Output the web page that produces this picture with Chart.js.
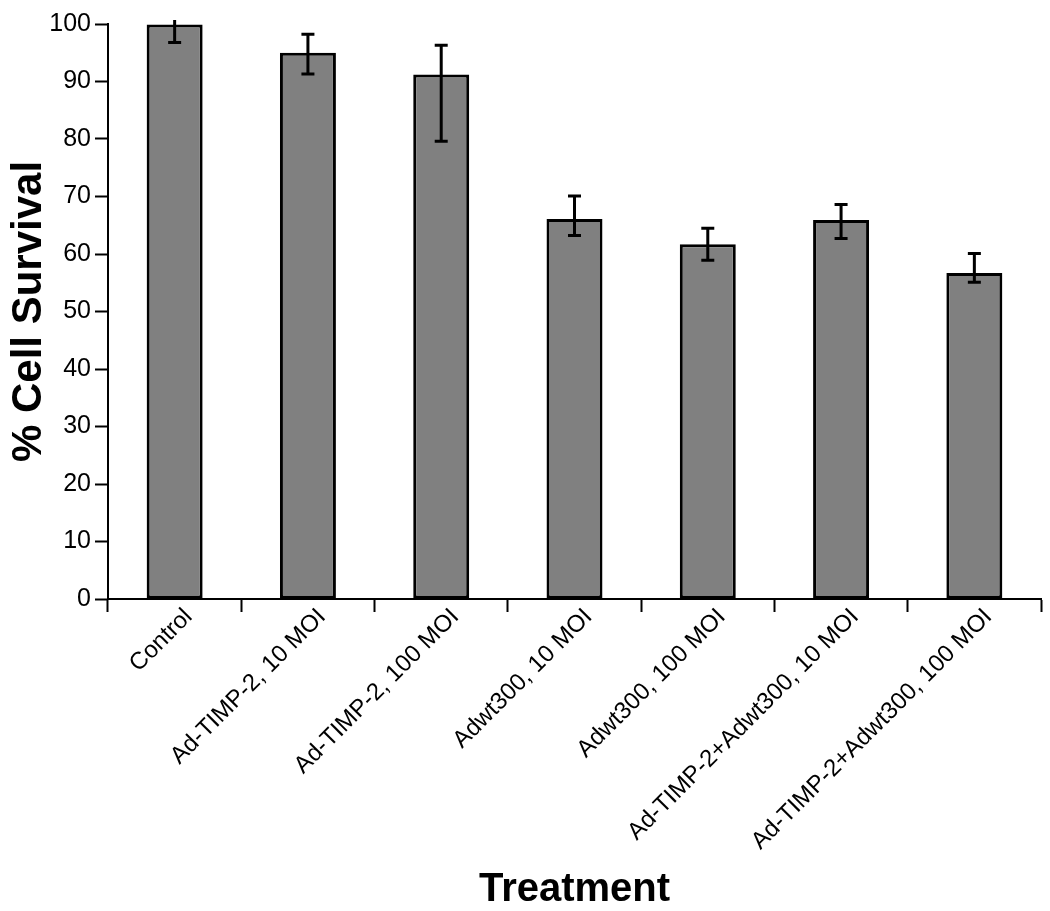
<!DOCTYPE html>
<html>
<head>
<meta charset="utf-8">
<script src="https://cdn.jsdelivr.net/npm/chart.js@4/dist/chart.umd.min.js"></script>
<style>
  html, body { margin: 0; padding: 0; background: #fff; }
  #wrap { width: 1050px; height: 911px; }
</style>
</head>
<body>
<div id="wrap"><canvas id="survivalChart" width="1050" height="911"></canvas></div>
<script>
// ===============================
//  DATA
// ===============================
const treatments = [
    "Control",
    "Ad-TIMP-2, 10 MOI",
    "Ad-TIMP-2, 100 MOI",
    "Adwt300, 10 MOI",
    "Adwt300, 100 MOI",
    "Ad-TIMP-2+Adwt300, 10 MOI",
    "Ad-TIMP-2+Adwt300, 100 MOI"
];
const survival = [99.9, 95.0, 91.2, 66.1, 61.7, 65.9, 56.7];
const errUp = [3.1, 3.2, 5.1, 4.0, 2.8, 2.7, 3.4];
const errDown = [3.1, 3.7, 11.6, 2.9, 2.8, 3.2, 1.6];
const yTicks = [0, 10, 20, 30, 40, 50, 60, 70, 80, 90, 100];

const FONT = "'Liberation Sans', Arial, Helvetica, sans-serif";

// ===============================
//  ERROR BAR PLUGIN
// ===============================
const errorBars = {
    id: "errorBars",
    afterDatasetsDraw(chart) {
        const { ctx, chartArea, scales } = chart;
        const y = scales.y;
        const meta = chart.getDatasetMeta(0);
        const cap = 6.5;

        ctx.save();
        // clip just above the top of the axis, the top cap of Control runs off the plot
        ctx.beginPath();
        ctx.rect(chartArea.left, chartArea.top - 4, chartArea.right - chartArea.left, chartArea.bottom - chartArea.top + 4);
        ctx.clip();
        ctx.strokeStyle = "#000";
        ctx.lineWidth = 3;

        meta.data.forEach((bar, i) => {
            const x = bar.x;
            const hi = y.getPixelForValue(survival[i] + errUp[i]);
            const lo = y.getPixelForValue(survival[i] - errDown[i]);
            ctx.beginPath();
            ctx.moveTo(x, hi);
            ctx.lineTo(x, lo);
            ctx.moveTo(x - cap, hi);
            ctx.lineTo(x + cap, hi);
            ctx.moveTo(x - cap, lo);
            ctx.lineTo(x + cap, lo);
            ctx.stroke();
        });
        ctx.restore();
    }
};

// ===============================
//  BUILD CHART
// ===============================
function buildChart() {
    const ctx = document.getElementById("survivalChart");

    new Chart(ctx, {
        type: "bar",
        data: {
            labels: treatments,
            datasets: [{
                label: "% Cell Survival",
                data: survival,
                backgroundColor: "#808080",
                borderColor: "#000",
                borderWidth: 3,
                borderSkipped: false,
                barPercentage: 0.42,
                categoryPercentage: 1
            }]
        },
        options: {
            responsive: false,
            animation: false,
            devicePixelRatio: 1,
            layout: { padding: { top: 24, right: 9, left: 4, bottom: 0 } },
            plugins: {
                legend: { display: false },
                tooltip: { enabled: false }
            },
            scales: {
                x: {
                    afterFit(scale) { scale.height = 312; },
                    border: { display: true, color: "#000", width: 2 },
                    grid: {
                        display: true,
                        drawOnChartArea: false,
                        offset: true,
                        tickLength: 13,
                        tickColor: "#000",
                        tickWidth: 2
                    },
                    ticks: {
                        color: "#000",
                        font: { family: FONT, size: 24 },
                        minRotation: 45,
                        maxRotation: 45,
                        autoSkip: false,
                        padding: -9,
                        labelOffset: 14
                    },
                    title: {
                        display: true,
                        text: "Treatment",
                        color: "#000",
                        font: { family: FONT, size: 40, weight: "bold" },
                        padding: { top: 0, bottom: -3 }
                    }
                },
                y: {
                    min: 0,
                    max: 100,
                    afterFit(scale) { scale.width = 104; },
                    afterBuildTicks(scale) {
                        scale.ticks = yTicks.map(v => ({ value: v }));
                    },
                    border: { display: true, color: "#000", width: 2 },
                    grid: {
                        display: true,
                        drawOnChartArea: false,
                        tickLength: 13,
                        tickColor: "#000",
                        tickWidth: 2
                    },
                    ticks: {
                        color: "#000",
                        font: { family: FONT, size: 25 },
                        padding: 4
                    },
                    title: {
                        display: true,
                        text: "% Cell Survival",
                        color: "#000",
                        font: { family: FONT, size: 42, weight: "bold" },
                        padding: { top: 0, bottom: 0 }
                    }
                }
            }
        },
        plugins: [errorBars]
    });
}

buildChart();
</script>
</body>
</html>
